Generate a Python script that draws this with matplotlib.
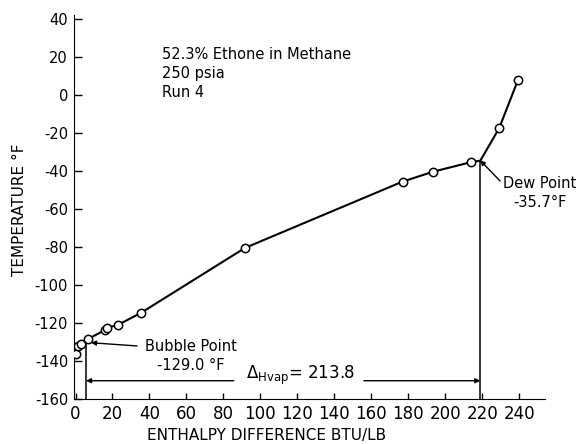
import numpy as np
import matplotlib
matplotlib.use('Agg')
import matplotlib.pyplot as plt

plt.rcParams['axes.unicode_minus'] = False
plt.rcParams['mathtext.fontset'] = 'dejavusans'

# measured points (open circles)
enthalpy = [0, 1.2, 3.0, 6.9, 16.0, 16.8, 22.8, 35.4, 91.7, 177.0, 193.5, 213.9, 229.2, 239.4]
temperature = [-136.5, -132.1, -131.1, -128.4, -123.7, -122.6, -121.1, -114.7, -80.5, -45.6, -40.4, -35.4, -17.5, 7.9]

bubble_h, bubble_t = 5.7, -129.7
dew_h, dew_t = 219.0, -34.6
dh_vap = 213.8

x_ticks = list(range(0, 241, 20))
y_ticks = list(range(-160, 41, 20))

# curve goes through the dew point (kink)
line_x = np.array(enthalpy + [dew_h])
line_y = np.array(temperature + [dew_t])
order = np.argsort(line_x)

fig = plt.figure(figsize=(5.8, 4.44), dpi=100)
ax = fig.add_axes([0.127, 0.1014, 0.8127, 0.8646])

ax.plot(line_x[order], line_y[order], color='black', lw=1.5, zorder=2)
ax.plot(enthalpy, temperature, 'o', ms=6, mfc='white', mec='black', mew=1.1, zorder=3)

# vertical lines at bubble and dew points
ax.plot([bubble_h, bubble_h], [-160, bubble_t], color='black', lw=1.1)
ax.plot([dew_h, dew_h], [-160, dew_t], color='black', lw=1.1)

# delta H vap arrows
arr = dict(arrowstyle='-|>', color='black', lw=1.0, mutation_scale=7, shrinkA=0, shrinkB=0)
ax.annotate('', xy=(bubble_h, -150.4), xytext=(85.6, -150.4), arrowprops=arr)
ax.annotate('', xy=(dew_h, -150.4), xytext=(156, -150.4), arrowprops=arr)
ax.text(122, -147.5, r'$\Delta_{\mathrm{Hvap}}$' + '= %.1f' % dh_vap, ha='center', va='center', fontsize=12)

# leaders
ax.annotate('', xy=(8.4, -130.4), xytext=(33.3, -132.1), arrowprops=arr)
ax.text(62.5, -137.5, 'Bubble Point\n-129.0 °F', ha='center', va='center', fontsize=10.5, linespacing=1.3)
ax.annotate('', xy=(218.9, -34.4), xytext=(229.7, -45.3), arrowprops=arr)
ax.text(251, -51.6, 'Dew Point\n-35.7°F', ha='center', va='center', fontsize=10.5, linespacing=1.3, clip_on=False)

ax.text(46.8, 25.3, '52.3% Ethone in Methane\n250 psia\nRun 4', ha='left', va='top', fontsize=10.5,
        linespacing=1.35, transform=ax.transData)

ax.set_xlim(-1, 254)
ax.set_ylim(-160, 42)
ax.set_xticks(x_ticks)
ax.set_yticks(y_ticks)
ax.spines['top'].set_visible(False)
ax.spines['right'].set_visible(False)
ax.tick_params(axis='y', direction='in', length=6, width=1, labelsize=10.5, pad=4)
ax.tick_params(axis='x', direction='in', length=4, width=1, labelsize=12, pad=4)

ax.set_xlabel('ENTHALPY DIFFERENCE BTU/LB', fontsize=11)
ax.xaxis.set_label_coords(0.409, -0.094)
ax.xaxis.label.set_va('center')
ax.set_ylabel('TEMPERATURE °F', fontsize=11)
ax.yaxis.set_label_coords(-0.114, 0.492)
ax.yaxis.label.set_va('center')

fig.savefig('out.png', dpi=100)
